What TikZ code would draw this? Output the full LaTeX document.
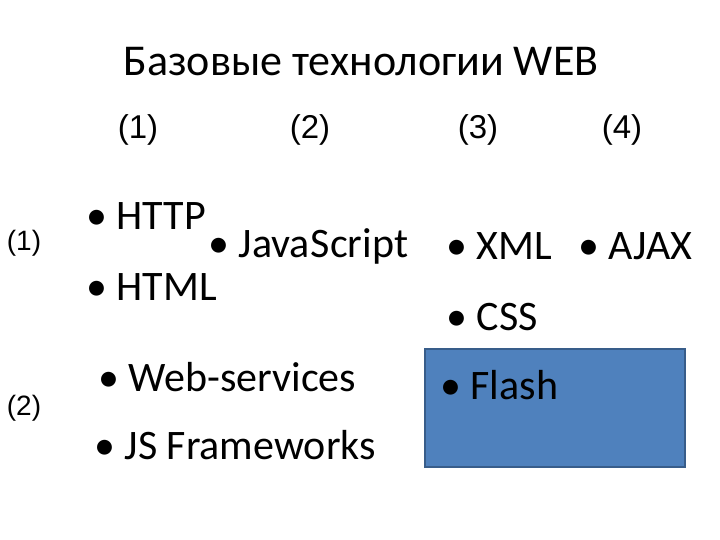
\documentclass[tikz,border=0pt]{standalone}
\usepackage{fontspec}
\setmainfont{Carlito}
\newfontfamily\arial{Liberation Sans}
\begin{document}
\begin{tikzpicture}[x=1pt,y=-1pt,
  lbl/.style={font=\arial\fontsize{33}{36}\selectfont,inner sep=0},
  big/.style={font=\fontsize{42}{46}\selectfont,anchor=west,inner sep=0}]
\useasboundingbox (0,0) rectangle (720,540);
\fill[white] (0,0) rectangle (720,540);
\node[inner sep=0,font=\fontsize{44}{48}\selectfont] (title) at (361,62) {Базовые технологии WEB};
\node[lbl] (c1) at (138,130) {(1)};
\node[lbl] (c2) at (310,130) {(2)};
\node[lbl] (c3) at (478,130) {(3)};
\node[lbl] (c4) at (622,130) {(4)};
\node[lbl,font=\arial\fontsize{28}{30}\selectfont] (r1) at (24,243) {(1)};
\node[lbl,font=\arial\fontsize{28}{30}\selectfont] (r2) at (24,408) {(2)};
\draw[fill={rgb,255:red,79;green,129;blue,189},draw={rgb,255:red,56;green,93;blue,138},line width=1.5pt] (425,349) rectangle (685,467);
\node[big] (http) at (86,216) {• HTTP};
\node[big] (html) at (86,287) {• HTML};
\node[big] (js) at (208,246) {• Java\kern1pt Script};
\node[big] (xml) at (446,246) {• XML};
\node[big] (ajax) at (578,246) {• AJAX};
\node[big] (css) at (446,317) {• CSS};
\node[big] (flash) at (440,385) {• Flash};
\node[big] (ws) at (98,377) {• Web-services};
\node[big] (jsf) at (94,445) {• JS Frameworks};
\end{tikzpicture}
\end{document}
